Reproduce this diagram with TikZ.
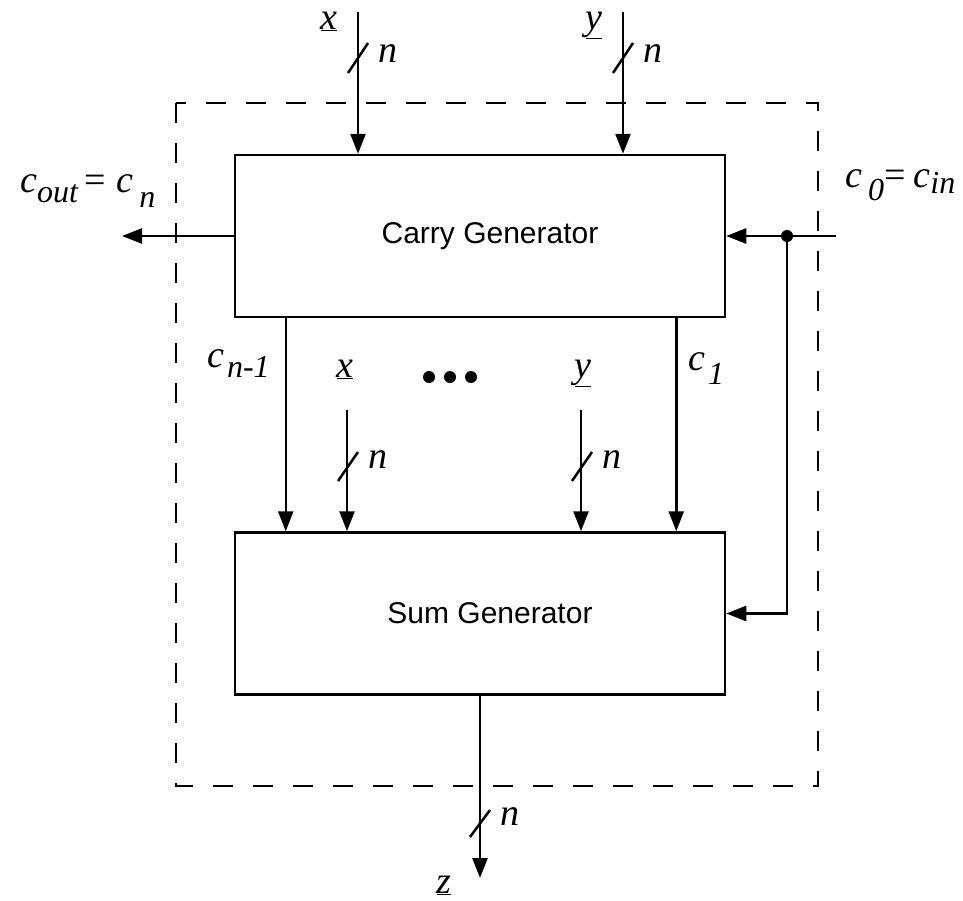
\documentclass[tikz,border=0pt]{standalone}
\usepackage{fontspec}
\setmainfont{Liberation Serif}
\newfontfamily\boxfont{Liberation Sans}
\usetikzlibrary{arrows.meta}
\newcommand\mainsz{\fontsize{38}{40}\selectfont}
\newcommand\subsz{\fontsize{32}{34}\selectfont}
\newcommand\lbl[1]{{\mainsz\itshape #1}}
\newcommand\sbl[2]{\raisebox{#1}{\subsz\itshape #2}}
\begin{document}
\begin{tikzpicture}[x=1pt,y=-1pt,
  wire/.style={line width=2.5pt},
  arr/.style={wire,-{Triangle[length=20pt,width=15pt]}},
  blk/.style={draw,line width=2.5pt,minimum width=490pt,minimum height=162pt,inner sep=0pt},
  blktext/.style={inner sep=0pt,font=\boxfont\fontsize{30}{32}\selectfont},
  lab/.style={inner sep=0pt,anchor=base west},
  clab/.style={inner sep=0pt,anchor=base},
  busmark/.style={line width=2.5pt},
  frame/.style={line width=2.5pt,dash pattern=on 20pt off 20pt}]
\useasboundingbox (0,0) rectangle (963,900);

% dashed outline
\draw[frame] (176,103) rectangle (818,786);

% blocks
\node[blk] (carry) at (480,236) {};
\node[blk] (sum) at (480,613.5) {};
\node[blktext] (carryt) at ([xshift=10pt]carry.center) {Carry Generator};
\node[blktext] (sumt) at ([xshift=10pt]sum.center) {Sum Generator};

% top inputs
\coordinate (xin) at (358,12);
\coordinate (yin) at (623,12);
\draw[arr] (xin) -- (xin |- carry.north);
\draw[arr] (yin) -- (yin |- carry.north);
\draw[busmark] (348,73) -- (368,43);
\draw[busmark] (613,73) -- (633,43);
\node[clab] (xl) at (329,29) {\lbl{\underline{x}}};
\node[clab] (yl) at (594,29) {\lbl{\underline{y}}};
\node[clab] (n1) at (388,62) {\lbl{n}};
\node[clab] (n2) at (653,62) {\lbl{n}};

% carry out
\coordinate (cout) at (122,236);
\draw[arr] (carry.west) -- (cout);
\node[lab] (coutl) at (20,192) {\lbl{c}\sbl{-10pt}{out}\hspace{7pt}{\mainsz =}\hspace{10pt}\lbl{c}\hspace{6pt}\sbl{-15pt}{n}};

% carry in
\coordinate (cin) at (836,236);
\coordinate (tap) at (787,236);
\draw[arr] (cin) -- (carry.east);
\draw[arr] (tap) |- (sum.east);
\fill (tap) circle (6pt);
\node[lab] (cinl) at (845,187) {\lbl{c}\hspace{6pt}\sbl{-13pt}{0}{\mainsz =}\hspace{8pt}\lbl{c}\sbl{-6pt}{in}};

% internal carries
\draw[arr] ([xshift=52pt]carry.south west) coordinate (cn1top) -- ([xshift=52pt]sum.north west);
\draw[arr] ([xshift=-50pt]carry.south east) coordinate (c1top) -- ([xshift=-50pt]sum.north east);
\node[lab] (cn1l) at (207,367) {\lbl{c}\hspace{3pt}\sbl{-10pt}{n-1}};
\node[lab] (c1l) at (688,370) {\lbl{c}\hspace{3pt}\sbl{-14pt}{1}};

% internal operands
\coordinate (xi) at (347,410);
\coordinate (yi) at (581,410);
\draw[arr] (xi) -- (xi |- sum.north);
\draw[arr] (yi) -- (yi |- sum.north);
\draw[busmark] (338,481) -- (358,452);
\draw[busmark] (572,481) -- (592,452);
\node[clab] (xil) at (345,377) {\lbl{\underline{x}}};
\node[clab] (yil) at (583,377) {\lbl{\underline{y}}};
\node[clab] (n3) at (378,468) {\lbl{n}};
\node[clab] (n4) at (612,468) {\lbl{n}};

% ellipsis
\foreach \px in {429,450,471} \fill (\px,377) circle (6pt);

% output
\coordinate (zo) at (480,878);
\draw[arr] (sum.south) -- (zo);
\draw[busmark] (470,837) -- (490,810);
\node[clab] (n5) at (510,825) {\lbl{n}};
\node[clab] (zl) at (444,893) {\lbl{\underline{z}}};
\end{tikzpicture}
\end{document}
